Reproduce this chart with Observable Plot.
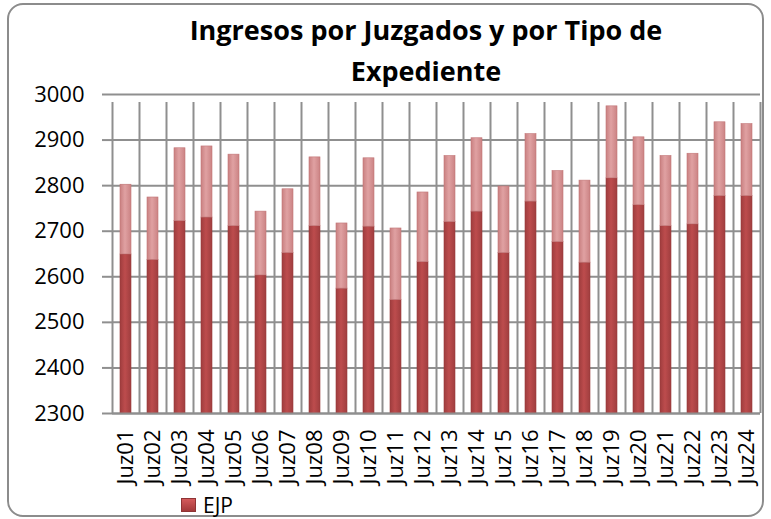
<!DOCTYPE html>
<html>
<head>
<meta charset="utf-8">
<script src="https://cdn.jsdelivr.net/npm/d3@7"></script>
<script src="https://cdn.jsdelivr.net/npm/@observablehq/plot@0.6"></script>
<style>
  html, body { margin: 0; padding: 0; background: #fff; }
  body { width: 771px; height: 519px; position: relative; overflow: hidden; font-family: "Open Sans", sans-serif; }
  #frame { position: absolute; left: 7px; top: 3px; width: 753px; height: 510px; border: 2px solid #8c8c8c; border-radius: 16px; box-sizing: content-box; }
  #title { position: absolute; left: 76px; width: 700px; top: 9px; text-align: center; font-weight: 700; font-size: 27px; line-height: 41px; color: #000; }
  #chart { position: absolute; left: 0; top: 70px; }
  #legend { position: absolute; left: 181px; top: 491px; display: flex; align-items: center; font-size: 21px; color: #000; }
  #legend .sw { width: 15px; height: 14px; background: linear-gradient(to bottom, #d45a5b, #a3393a); margin-right: 7px; border: 1px solid #8f3435; box-sizing: border-box; }
</style>
</head>
<body>
<div id="frame"></div>
<div id="title">Ingresos por Juzgados y por Tipo de<br>Expediente</div>
<div id="chart"></div>
<div id="legend"><div class="sw"></div><span>EJP</span></div>
<script>
const juzgados = ["Juz01","Juz02","Juz03","Juz04","Juz05","Juz06","Juz07","Juz08","Juz09","Juz10","Juz11","Juz12","Juz13","Juz14","Juz15","Juz16","Juz17","Juz18","Juz19","Juz20","Juz21","Juz22","Juz23","Juz24"];
// Dark (bottom) segment: EJP
const ejp = [2649,2637,2722,2730,2711,2603,2652,2711,2574,2710,2549,2632,2720,2743,2652,2765,2676,2631,2816,2757,2711,2715,2777,2777];
// Light (top) segment
const otros = [153,137,160,156,157,140,140,151,143,150,157,153,145,161,146,148,156,180,158,149,154,155,162,158];
const yTicks = [2300,2400,2500,2600,2700,2800,2900,3000];

const rows = [];
juzgados.forEach((j, i) => {
  rows.push({juz: j, serie: "EJP", value: ejp[i]});
  rows.push({juz: j, serie: "Otros", value: otros[i]});
});

const W = 771, H = 434, mL = 112, mR = 11, mT = 24, mB = 91;
const step = (W - mL - mR) / juzgados.length;
const gridColor = "#8f8f8f";

const plot = Plot.plot({
  width: W, height: H,
  marginLeft: mL, marginRight: mR, marginTop: mT, marginBottom: mB,
  style: {fontFamily: "Open Sans, sans-serif", fontSize: "22px", color: "#000", background: "transparent"},
  x: {domain: juzgados, paddingInner: 0.6, paddingOuter: 0.3, label: null, tickRotate: -90, tickSize: 0, tickPadding: 16},
  y: {type: "linear", domain: [2300, 3000], ticks: yTicks, label: null},
  marks: [
    Plot.gridY(yTicks, {stroke: gridColor, strokeOpacity: 1, strokeWidth: 2}),
    Plot.ruleX(juzgados, {x: d => d, dx: step / 2, y1: 2300, y2: 3000, insetBottom: -8, stroke: gridColor, strokeWidth: 2}),
    Plot.ruleX(juzgados.slice(0, 1), {x: d => d, dx: -step / 2, y1: 2300, y2: 3000, insetBottom: -8, stroke: gridColor, strokeWidth: 2}),
    Plot.barY(rows, Plot.stackY({
      x: "juz", y: "value", order: ["EJP", "Otros"], z: "serie",
      fill: d => d.serie === "EJP" ? "url(#gDark)" : "url(#gLight)",
      stroke: d => d.serie === "EJP" ? "#9a3a3b" : "#c27677",
      strokeWidth: 0.6,
      clip: true
    })),
    Plot.ruleY([2300], {stroke: gridColor, strokeWidth: 2}),
    Plot.axisY({ticks: yTicks, tickSize: 10, tickPadding: 18, stroke: gridColor, strokeWidth: 2, tickFormat: d => String(d)})
  ]
});

// gradients for cylinder-like bars
const ns = "http://www.w3.org/2000/svg";
const defs = document.createElementNS(ns, "defs");
function grad(id, stops) {
  const g = document.createElementNS(ns, "linearGradient");
  g.setAttribute("id", id);
  g.setAttribute("x1", "0"); g.setAttribute("x2", "1"); g.setAttribute("y1", "0"); g.setAttribute("y2", "0");
  stops.forEach(([o, c]) => {
    const s = document.createElementNS(ns, "stop");
    s.setAttribute("offset", o); s.setAttribute("stop-color", c);
    g.appendChild(s);
  });
  defs.appendChild(g);
}
grad("gDark", [["0", "#9f3d3e"], ["0.45", "#bd4c4d"], ["1", "#a03e3f"]]);
grad("gLight", [["0", "#c98081"], ["0.45", "#e0a1a2"], ["1", "#cb8384"]]);
plot.insertBefore(defs, plot.firstChild);

document.getElementById("chart").appendChild(plot);
</script>
</body>
</html>
